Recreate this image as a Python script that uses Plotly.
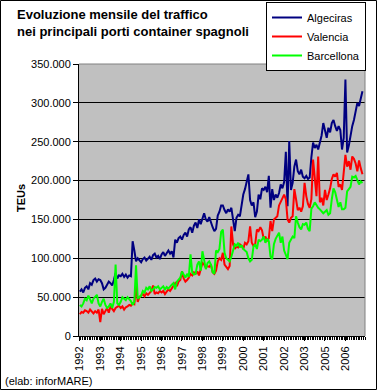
import plotly.graph_objects as go

# Monthly TEUs (thousands)
algeciras = [
    57, 60, 56, 62, 64, 60, 68, 66, 72, 74, 70, 73,
    72, 68, 60, 62, 66, 70, 68, 65, 72, 81, 74, 78,
    77, 80, 76, 79, 75, 78, 77, 122, 110, 96, 100, 98,
    95, 99, 101, 97, 100, 102, 98, 104, 106, 101, 103, 99,
    105, 108, 103, 107, 110, 106, 109, 101, 124, 120, 126, 128,
    124, 130, 133, 128, 137, 140, 133, 142, 146, 139, 150, 144,
    152, 158, 150, 147, 153, 145, 140, 135, 138, 155, 160, 168,
    168, 162, 158, 163, 160, 165, 150, 135, 152, 156, 154, 170,
    182, 189, 200, 208, 175, 168, 172, 153, 160, 182, 176, 190,
    188, 192, 185, 206, 165, 189, 175, 182, 178, 184, 195, 190,
    198, 237, 167, 251, 188, 197, 218, 227, 212, 208, 214, 205,
    203, 206, 202, 204, 230, 249, 242, 246, 240, 249, 258, 274,
    262, 255, 268, 262, 274, 278, 270, 264, 270, 265, 240, 255,
    330, 236, 245, 260, 270, 278, 288, 300, 296, 304, 315,
]
valencia = [
    28, 31, 30, 33, 32, 30, 34, 31, 29, 32, 30, 34,
    18, 35, 28, 32, 36, 30, 38, 35, 32, 36, 38, 39,
    36, 38, 34, 37, 38, 40, 39, 42, 41, 65, 44, 50,
    52, 54, 51, 55, 53, 56, 58, 65, 54, 56, 55, 58,
    56, 58, 54, 57, 60, 58, 62, 66, 68, 64, 70, 72,
    83, 74, 70, 72, 75, 80, 78, 82, 80, 83, 78, 86,
    94, 92, 88, 90, 89, 92, 82, 80, 84, 96, 100, 98,
    107, 92, 88, 86, 90, 141, 118, 112, 115, 114, 118, 116,
    112, 120, 118, 122, 141, 120, 116, 118, 137, 135, 140, 136,
    125, 128, 122, 126, 148, 135, 150, 152, 154, 168, 172, 178,
    182, 176, 150, 146, 152, 154, 189, 176, 162, 165, 160, 167,
    197, 180, 170, 165, 176, 227, 205, 180, 231, 172, 178, 168,
    188, 175, 182, 190, 202, 208, 205, 210, 192, 195, 188, 215,
    233, 218, 225, 214, 231, 228, 222, 212, 226, 216, 208,
]
barcellona = [
    40, 38, 42, 48, 46, 52, 47, 42, 48, 50, 53, 42,
    38, 44, 48, 40, 36, 38, 42, 36, 44, 92, 42, 40,
    44, 50, 48, 46, 50, 47, 45, 40, 44, 91, 48, 50,
    52, 58, 56, 62, 60, 64, 58, 60, 63, 62, 64, 60,
    62, 64, 60, 63, 61, 64, 66, 68, 60, 70, 72, 75,
    83, 78, 75, 80, 76, 105, 82, 79, 80, 92, 96, 84,
    109, 98, 86, 94, 96, 92, 82, 80, 110, 108, 112, 134,
    137, 107, 100, 98, 96, 102, 111, 118, 116, 120, 114, 117,
    112, 110, 108, 100, 96, 98, 115, 118, 112, 124, 122, 124,
    128, 120, 125, 122, 102, 99, 118, 125, 130, 133, 120, 128,
    110, 105, 99, 120, 124, 128, 126, 154, 146, 140, 137, 144,
    143, 146, 138, 135, 164, 167, 172, 168, 165, 163, 160, 158,
    160, 162, 156, 158, 176, 190, 185, 175, 166, 172, 163, 163,
    165, 186, 190, 192, 205, 204, 206, 200, 195, 199, 197,
]
year_labels = ["1992", "1993", "1994", "1995", "1996", "1997", "1998",
               "1999", "2000", "2001", "2002", "2003", "2005", "2006"]
title_lines = ["Evoluzione mensile del traffico",
               "nei principali porti container spagnoli"]

FONT = "Liberation Sans, Arial, sans-serif"
W, H = 378, 391
L, R, T, B = 79, 13, 64, 55
PW, PH = W - L - R, H - T - B

def px(xp):
    return (xp - L) / PW

def py(yp):
    return (T + PH - yp) / PH

months = list(range(len(algeciras)))
fig = go.Figure()
for name, vals, col in [("Algeciras", algeciras, "#000080"),
                        ("Valencia", valencia, "#FF0000"),
                        ("Barcellona", barcellona, "#00FF00")]:
    fig.add_trace(go.Scatter(x=months, y=[v * 1000 for v in vals], mode="lines",
                             name=name, line=dict(color=col, width=2)))

annotations = [
    dict(text="<b>%s</b>" % line, xref="paper", yref="paper",
         x=px(15), y=py(yc), xanchor="left", yanchor="middle",
         showarrow=False, font=dict(family=FONT, size=13, color="black"))
    for line, yc in zip(title_lines, [14, 32])
]
annotations += [
    dict(text="<b>TEUs</b>", textangle=-90, xref="paper", yref="paper",
         x=px(21), y=py(198), xanchor="center", yanchor="middle",
         showarrow=False, font=dict(family=FONT, size=11, color="black")),
    dict(text="(elab: inforMARE)", xref="paper", yref="paper",
         x=px(3), y=py(381), xanchor="left", yanchor="middle",
         showarrow=False, font=dict(family=FONT, size=11, color="black")),
]

fig.update_layout(
    width=W, height=H, autosize=False,
    margin=dict(l=L, r=R, t=T, b=B, pad=0, autoexpand=False),
    paper_bgcolor="white", plot_bgcolor="#C0C0C0",
    separators=",.",
    font=dict(family=FONT, size=11, color="black"),
    showlegend=True,
    legend=dict(xref="container", yref="container",
                x=366 / W, y=1 - 2 / H, xanchor="right", yanchor="top",
                bgcolor="white", bordercolor="black", borderwidth=1,
                font=dict(family=FONT, size=11, color="black"),
                itemwidth=30, tracegroupgap=0),
    xaxis=dict(range=[-0.5, 167.5], tickmode="array",
               tickvals=[12 * i for i in range(len(year_labels))],
               ticktext=year_labels, tickangle=-90,
               tickfont=dict(family=FONT, size=11),
               ticks="outside", ticklen=4, tickcolor="black",
               ticklabelstandoff=1,
               showline=True, linecolor="black", linewidth=1,
               showgrid=False, zeroline=False, automargin=False,
               minor=dict(ticks="outside", ticklen=3, tickcolor="black",
                          tick0=-0.5, dtick=1, showgrid=False)),
    yaxis=dict(range=[0, 350000], dtick=50000, tickformat=",d",
               tickfont=dict(family=FONT, size=11),
               ticks="outside", ticklen=5, tickcolor="black",
               showline=True, linecolor="black", linewidth=1,
               showgrid=True, gridcolor="black", gridwidth=1,
               zeroline=False, automargin=False),
    shapes=[
        dict(type="line", xref="paper", yref="paper", x0=0, x1=1, y0=1, y1=1,
             line=dict(color="#808080", width=1), layer="above"),
        dict(type="line", xref="paper", yref="paper", x0=1, x1=1, y0=0, y1=1,
             line=dict(color="#808080", width=1), layer="above"),
        dict(type="rect", xref="paper", yref="paper",
             x0=px(0.5), x1=px(376.5), y0=py(389.5), y1=py(0.5),
             line=dict(color="black", width=1), layer="below"),
    ],
    annotations=annotations,
)

fig.write_html("out.html",
               config={"displayModeBar": False},
               post_script="document.body.style.margin='0';"
                           "document.body.style.padding='0';"
                           "document.body.style.overflow='hidden';")
